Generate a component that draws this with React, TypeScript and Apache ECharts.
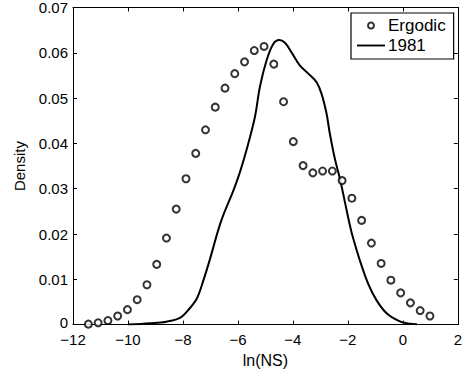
import React, { useEffect, useRef } from "react";
import * as echarts from "echarts";

const ergodicX = [
  -11.44, -11.085, -10.73, -10.375, -10.02, -9.665, -9.31, -8.955, -8.6, -8.245,
  -7.89, -7.535, -7.18, -6.825, -6.47, -6.115, -5.76, -5.405, -5.05, -4.695,
  -4.34, -3.985, -3.63, -3.275, -2.92, -2.565, -2.21, -1.855, -1.5, -1.145,
  -0.79, -0.435, -0.08, 0.275, 0.63, 0.985,
];
const ergodicY = [
  0.0001, 0.0004, 0.0009, 0.0019, 0.0033, 0.0055, 0.0088, 0.0133, 0.0191, 0.0255,
  0.0322, 0.0378, 0.043, 0.048, 0.0522, 0.0554, 0.058, 0.0605, 0.0614, 0.0575,
  0.0492, 0.0404, 0.0351, 0.0335, 0.0339, 0.0339, 0.0318, 0.0279, 0.023, 0.018,
  0.0135, 0.0098, 0.007, 0.0048, 0.0031, 0.0019,
];

const curveX = [
  -10.0, -9.2, -8.6, -8.11, -7.81, -7.5, -7.26, -7.02, -6.72, -6.53, -6.17, -5.93,
  -5.68, -5.38, -5.2, -4.96, -4.72, -4.5, -4.29, -4.05, -3.75, -3.44, -3.14, -2.96,
  -2.78, -2.66, -2.47, -2.29, -2.11, -1.93, -1.81, -1.56, -1.26, -0.96, -0.59,
  -0.11, 0.26, 0.51,
];
const curveY = [
  0.0, 0.0003, 0.00065, 0.0015, 0.0032, 0.0057, 0.0097, 0.0144, 0.0208, 0.0242,
  0.0295, 0.0336, 0.0387, 0.0459, 0.0525, 0.0583, 0.0619, 0.0628, 0.0622, 0.0601,
  0.0572, 0.0554, 0.0535, 0.051, 0.0467, 0.0423, 0.0365, 0.0322, 0.0271, 0.022,
  0.0191, 0.0141, 0.009, 0.0054, 0.0025, 0.0007, 0.0002, 0.0001,
];

const seriesNames = ["Ergodic", "1981"];
const xAxisTitle = "ln(NS)";
const yAxisTitle = "Density";

const FONT = "'Liberation Sans', Arial, Helvetica, sans-serif";

export default function App() {
  const ref = useRef<HTMLDivElement>(null);
  useEffect(() => {
    document.body.style.margin = "0";
    if (!ref.current) return;
    const chart = echarts.init(ref.current, null, { renderer: "svg" });
    const axisLine = { show: true, onZero: false, lineStyle: { color: "#000", width: 1 } };
    const tick = { show: true, inside: true, length: 4, lineStyle: { color: "#000" } };
    chart.setOption({
      animation: false,
      backgroundColor: "#fff",
      textStyle: { fontFamily: FONT },
      grid: { left: 73, top: 6, right: 7, bottom: 45 },
      legend: {
        orient: "vertical",
        left: 351,
        top: 13,
        padding: [4, 8, 5, 6],
        itemGap: 3,
        itemWidth: 28,
        itemHeight: 6,
        borderColor: "#000",
        borderWidth: 1.2,
        borderRadius: 0,
        backgroundColor: "#fff",
        textStyle: { fontFamily: FONT, fontSize: 17, color: "#000", padding: [0, 0, 0, -2] },
        data: [
          {
            name: seriesNames[0],
            icon: "emptyCircle",
            itemStyle: { color: "#000", borderColor: "#000", borderWidth: 1 },
          },
          {
            name: seriesNames[1],
            icon: "path://M0 0H30V2H0Z",
            itemStyle: { color: "#000", borderWidth: 0 },
          },
        ],
      },
      xAxis: [
        {
          type: "value",
          min: -12,
          max: 2,
          interval: 2,
          name: xAxisTitle,
          nameLocation: "middle",
          nameGap: 21,
          nameTextStyle: { fontFamily: FONT, fontSize: 16, color: "#000" },
          axisLine,
          axisTick: tick,
          splitLine: { show: false },
          axisLabel: {
            fontFamily: FONT,
            fontSize: 15,
            lineHeight: 12,
            color: "#000",
            margin: 9,
            formatter: (v: number) => String(v).replace("-", "\u2212"),
          },
        },
        {
          type: "value",
          position: "top",
          min: -12,
          max: 2,
          interval: 2,
          axisLine,
          axisTick: tick,
          splitLine: { show: false },
          axisLabel: { show: false },
        },
      ],
      yAxis: [
        {
          type: "value",
          min: 0,
          max: 0.07,
          interval: 0.01,
          name: yAxisTitle,
          nameLocation: "middle",
          nameGap: 46,
          nameTextStyle: { fontFamily: FONT, fontSize: 15, color: "#000" },
          axisLine,
          axisTick: tick,
          splitLine: { show: false },
          axisLabel: {
            fontFamily: FONT,
            fontSize: 15,
            lineHeight: 12,
            color: "#000",
            margin: 5,
            formatter: (v: number) => (v === 0 ? "{z|0}" : v.toFixed(2)),
            rich: {
              z: { fontFamily: FONT, fontSize: 15, lineHeight: 12, color: "#000", padding: [0, 0, 4, 0] },
            },
          },
        },
        {
          type: "value",
          position: "right",
          min: 0,
          max: 0.07,
          interval: 0.01,
          axisLine,
          axisTick: tick,
          splitLine: { show: false },
          axisLabel: { show: false },
        },
      ],
      series: [
        {
          name: seriesNames[0],
          type: "scatter",
          symbol: "emptyCircle",
          symbolSize: 7,
          itemStyle: { color: "#000", borderColor: "#000", borderWidth: 0.8 },
          data: ergodicX.map((x, i) => [x, ergodicY[i]]),
          z: 3,
        },
        {
          name: seriesNames[1],
          type: "line",
          symbol: "none",
          smooth: 0.35,
          lineStyle: { color: "#000", width: 2 },
          itemStyle: { color: "#000" },
          data: curveX.map((x, i) => [x, curveY[i]]),
          z: 2,
        },
      ],
    });
    return () => chart.dispose();
  }, []);
  return <div ref={ref} style={{ width: 465, height: 373 }} />;
}
